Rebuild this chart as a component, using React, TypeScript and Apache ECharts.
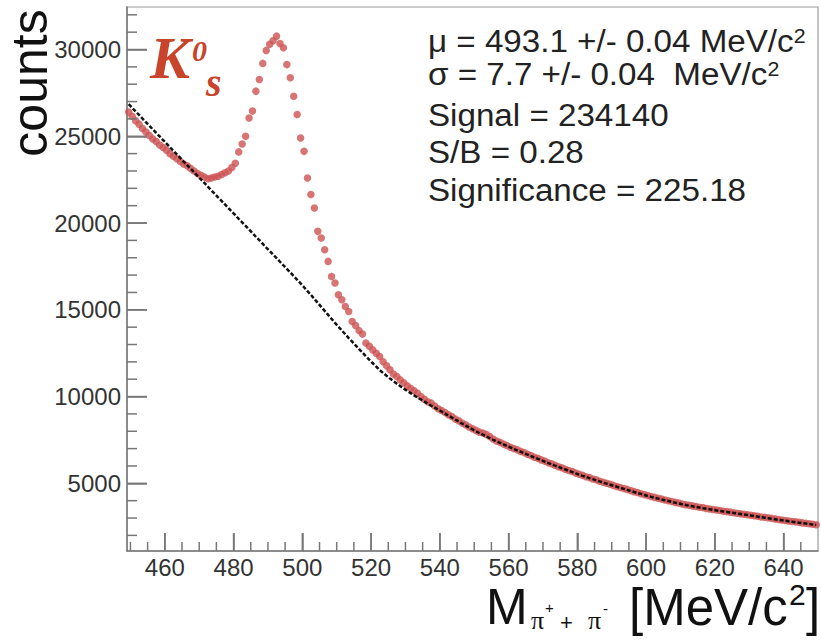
import React, { useEffect, useRef } from "react";
import * as echarts from "echarts";

// Invariant-mass histogram, 1 MeV/c^2 bins; first bin centre at 449.5
const massStart = 449.5;
const binWidth = 1;

// Measured counts (red markers)
const dataCounts = [
  26400, 26150, 25900, 25700, 25450, 25250, 25050, 24850, 24700, 24500,
  24350, 24200, 24000, 23850, 23700, 23550, 23400, 23300, 23150, 23000,
  22850, 22750, 22650, 22550, 22600, 22650, 22700, 22800, 22900, 23000,
  23200, 23450, 24100, 24550, 25000, 26050, 26450, 27600, 28270, 29200, 29950,
  30300, 30500, 30770, 30350, 30100, 29130, 28370, 27310, 26250, 24900,
  24130, 22600, 21640, 20870, 19520, 19140, 18460, 17790, 16920, 16540,
  15870, 15580, 15190, 14900, 14330, 14100, 13800, 13600, 13080, 12900,
  12690, 12500, 12310, 12000, 11780, 11550, 11300, 11150, 10960, 10800,
  10620, 10480, 10330, 10190, 10000, 9850, 9700, 9620, 9450, 9300,
  9200, 9080, 8950, 8850, 8700, 8600, 8480, 8380, 8250, 8150,
  8050, 7950, 7900, 7820, 7700, 7550, 7440, 7360, 7260, 7180,
  7080, 7000, 6930, 6840, 6770, 6680, 6600, 6500, 6440, 6350,
  6280, 6190, 6130, 6040, 5960, 5900, 5810, 5740, 5680, 5590,
  5520, 5460, 5380, 5330, 5250, 5200, 5120, 5060, 5000, 4950,
  4880, 4820, 4760, 4700, 4650, 4580, 4520, 4470, 4400, 4350,
  4300, 4240, 4190, 4140, 4090, 4040, 4000, 3950, 3900, 3860,
  3810, 3770, 3730, 3700, 3660, 3620, 3600, 3550, 3520, 3490,
  3460, 3430, 3390, 3370, 3340, 3300, 3280, 3250, 3220, 3190,
  3160, 3130, 3100, 3060, 3040, 3010, 2980, 2950, 2920, 2890,
  2860, 2830, 2800, 2780, 2750, 2720, 2700, 2670, 2640, 2610,
];

// Background (black dashed)
const bkgCounts = [
  26850, 26640, 26430, 26230, 26020, 25810, 25610, 25400, 25190, 24990,
  24780, 24580, 24370, 24160, 23960, 23750, 23540, 23340, 23130, 22930,
  22720, 22510, 22310, 22100, 21890, 21690, 21480, 21280, 21070, 20860,
  20660, 20450, 20240, 20040, 19830, 19630, 19420, 19210, 19010, 18800,
  18590, 18390, 18180, 17980, 17770, 17560, 17360, 17150, 16940, 16730,
  16520,
  16300, 16080, 15860, 15630, 15400, 15170, 14940, 14710, 14480, 14250,
  14030, 13810, 13590, 13370, 13160, 12950, 12740, 12530, 12320, 12120, 11920, 11720, 11530,
  11360, 11200, 11040, 10890, 10740, 10600, 10460, 10330, 10200, 10070,
  9950, 9830, 9710, 9590, 9470, 9360, 9250, 9140,
  9020, 8900, 8790, 8670, 8560, 8440, 8330, 8220, 8110, 8000,
  7900, 7800, 7700, 7610, 7510, 7420, 7330, 7240, 7150, 7070,
  6980, 6900, 6820, 6730, 6650, 6570, 6490, 6410, 6330, 6250,
  6170, 6100, 6020, 5950, 5870, 5800, 5720, 5650, 5570, 5500,
  5430, 5370, 5300, 5240, 5170, 5110, 5040, 4980, 4920, 4860,
  4800, 4740, 4680, 4620, 4560, 4500, 4440, 4390, 4330, 4270,
  4220, 4170, 4120, 4070, 4030, 3980, 3930, 3880, 3840, 3790,
  3750, 3710, 3680, 3640, 3610, 3570, 3540, 3500, 3470, 3440,
  3410, 3380, 3350, 3320, 3290, 3260, 3230, 3200, 3170, 3140,
  3110, 3080, 3050, 3020, 2990, 2960, 2930, 2900, 2870, 2840,
  2810, 2790, 2760, 2730, 2700, 2680, 2650, 2620, 2600,
];

const xMajorTicks = [460, 480, 500, 520, 540, 560, 580, 600, 620, 640];
const xMinorTicks = [
  450, 455, 465, 470, 475, 485, 490, 495, 505, 510, 515, 525, 530, 535,
  545, 550, 555, 565, 570, 575, 585, 590, 595, 605, 610, 615, 625, 630,
  635, 645,
];
const yMajorTicks = [5000, 10000, 15000, 20000, 25000, 30000];
const yMinorTicks = [
  2000, 3000, 4000, 6000, 7000, 8000, 9000, 11000, 12000, 13000, 14000,
  16000, 17000, 18000, 19000, 21000, 22000, 23000, 24000, 26000, 27000,
  28000, 29000, 31000, 32000,
];

const statLines = [
  { text: "μ = 493.1 +/- 0.04 MeV/c", sup: "2" },
  { text: "σ = 7.7 +/- 0.04  MeV/c", sup: "2" },
  { text: "Signal = 234140", sup: "" },
  { text: "S/B = 0.28", sup: "" },
  { text: "Significance = 225.18", sup: "" },
];
const statY = [41, 74, 115, 152, 190];

const X_MIN = 449;
const X_MAX = 650;
const Y_MIN = 1100;
const Y_MAX = 32450;

const AXIS_GREY = "#777777";
const RED = "#cd5352";
const K_RED = "#c8442a";
const SANS = '"Liberation Sans", Arial, sans-serif';
const SERIF = '"Liberation Serif", "Times New Roman", serif';

export default function App() {
  const ref = useRef<HTMLDivElement>(null);

  useEffect(() => {
    if (!ref.current) return;
    const chart = echarts.init(ref.current, undefined, { renderer: "svg" });

    const redPts = dataCounts.map((v, i) => [massStart + i * binWidth, v]);
    const bkgPts = bkgCounts.map((v, i) => [massStart + i * binWidth, v]);

    const statGraphics = statLines.map((l, i) => ({
      type: "text",
      x: 428,
      y: statY[i],
      scaleX: 1.07,
      silent: true,
      style: {
        text: l.sup ? `{t|${l.text}}{s|${l.sup}}` : `{t|${l.text}}`,
        rich: {
          t: { fontSize: 31, fontFamily: SANS, fill: "#222" },
          s: { fontSize: 20, fontFamily: SANS, fill: "#222", verticalAlign: "top" },
        },
        textAlign: "left",
        textVerticalAlign: "middle",
      },
    }));

    const txt = (text: string, x: number, y: number, font: string, extra: any = {}) => ({
      type: "text",
      x,
      y,
      silent: true,
      style: {
        text,
        font,
        fill: "#111",
        textAlign: "left",
        textVerticalAlign: "middle",
        ...extra,
      },
    });

    const textGraphics: any[] = [
      {
        type: "text",
        x: 30,
        y: 83,
        rotation: Math.PI / 2,
        silent: true,
        style: {
          text: "counts",
          font: `50px ${SANS}`,
          fill: "#111",
          textAlign: "center",
          textVerticalAlign: "middle",
        },
      },
      txt("K", 150, 58, `italic bold 60px ${SERIF}`, { fill: K_RED }),
      txt("0", 192, 50, `italic bold 30px ${SERIF}`, { fill: K_RED }),
      txt("s", 206, 82, `italic bold 40px ${SERIF}`, { fill: K_RED }),
      ...statGraphics,
      txt("M", 486, 607, `50px ${SANS}`, { lineHeight: 40 }),
      txt("π", 531, 620, `26px ${SERIF}`, { lineHeight: 20 }),
      txt("+", 545, 607, `15px ${SANS}`, { lineHeight: 12 }),
      txt("+", 560, 622, `22px ${SANS}`, { lineHeight: 16 }),
      txt("π", 588, 620, `26px ${SERIF}`, { lineHeight: 20 }),
      txt("-", 603, 608, `15px ${SANS}`, { lineHeight: 12 }),
      txt("[MeV/c", 629, 607, `51px ${SANS}`, { lineHeight: 40 }),
      txt("2", 789, 594, `30px ${SANS}`, { lineHeight: 22 }),
      txt("]", 806, 607, `51px ${SANS}`, { lineHeight: 40 }),
    ];

    const option: any = {
      animation: false,
      backgroundColor: "#ffffff",
      grid: {
        left: 127,
        right: 3,
        top: 7,
        bottom: 89,
        show: true,
        borderColor: "#9a9a9a",
        borderWidth: 1.2,
        backgroundColor: "transparent",
        containLabel: false,
      },
      xAxis: {
        type: "value",
        min: X_MIN,
        max: X_MAX,
        position: "bottom",
        axisLine: { show: true, onZero: false, lineStyle: { color: AXIS_GREY, width: 1.5 } },
        axisTick: {
          show: true,
          inside: true,
          length: 18,
          customValues: xMajorTicks,
          lineStyle: { color: AXIS_GREY, width: 1.5 },
        },
        axisLabel: {
          show: true,
          customValues: xMajorTicks,
          formatter: (v: number) => String(v),
          fontSize: 24,
          fontFamily: SANS,
          color: "#333",
          margin: 4,
        },
        splitLine: { show: false },
      },
      yAxis: {
        type: "value",
        min: Y_MIN,
        max: Y_MAX,
        position: "left",
        axisLine: { show: true, onZero: false, lineStyle: { color: AXIS_GREY, width: 1.5 } },
        axisTick: {
          show: true,
          inside: true,
          length: 20,
          customValues: yMajorTicks,
          lineStyle: { color: AXIS_GREY, width: 1.5 },
        },
        axisLabel: {
          show: true,
          customValues: yMajorTicks,
          formatter: (v: number) => String(v),
          fontSize: 24,
          fontFamily: SANS,
          color: "#333",
          margin: 6,
        },
        splitLine: { show: false },
      },
      series: [
        {
          name: "data",
          type: "scatter",
          data: redPts,
          symbol: "circle",
          symbolSize: 7.5,
          itemStyle: { color: RED },
          z: 2,
          silent: true,
        },
        {
          name: "background",
          type: "line",
          data: bkgPts,
          showSymbol: false,
          smooth: false,
          lineStyle: { color: "#111", width: 2.5, type: [4, 2] },
          z: 3,
          silent: true,
        },
      ],
      graphic: textGraphics,
    };

    chart.setOption(option);

    // Tick marks (major and minor), placed through the grid's value->pixel conversion
    const toPx = (x: number, y: number) =>
      chart.convertToPixel({ gridIndex: 0 }, [x, y]) as number[];
    const tickRect = (p: number[], dir: "x" | "y", len: number) => ({
      type: "rect",
      silent: true,
      z: 10,
      shape:
        dir === "x"
          ? { x: p[0] - 0.75, y: p[1] - len, width: 1.5, height: len }
          : { x: p[0], y: p[1] - 0.75, width: len, height: 1.5 },
      style: { fill: AXIS_GREY },
    });
    const ticks: any[] = [
      ...xMajorTicks.map((v) => tickRect(toPx(v, Y_MIN), "x", 18)),
      ...xMinorTicks.map((v) => tickRect(toPx(v, Y_MIN), "x", 9)),
      ...yMajorTicks.map((v) => tickRect(toPx(X_MIN, v), "y", 20)),
      ...yMinorTicks.map((v) => tickRect(toPx(X_MIN, v), "y", 10)),
    ];
    chart.setOption({ graphic: [...textGraphics, ...ticks] });

    return () => {
      chart.dispose();
    };
  }, []);

  return (
    <div
      ref={ref}
      style={{ position: "fixed", left: 0, top: 0, width: 821, height: 640, background: "#fff" }}
    />
  );
}
